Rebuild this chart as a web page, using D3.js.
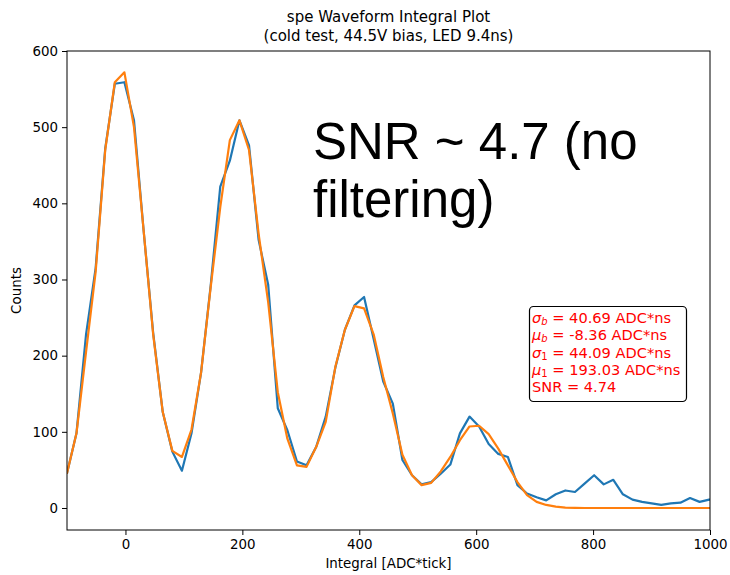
<!DOCTYPE html>
<html lang="en">
<head>
  <meta charset="utf-8">
  <title>spe Waveform Integral Plot</title>
  <script src="https://cdn.jsdelivr.net/npm/d3@7"></script>
  <style>
    body { margin: 0; background: #fff; font-family: "DejaVu Sans", sans-serif; }
  </style>
</head>
<body>
<div id="chart"></div>
<script>

// bin centres [ADC*tick]
const binCenters = [-100.2, -83.8, -67.4, -51.0, -34.6, -18.2, -1.8, 14.6, 31.0, 47.4,
  63.8, 80.2, 96.6, 113.0, 129.4, 145.8, 162.2, 178.6, 195.0, 211.4,
  227.8, 244.2, 260.6, 277.0, 293.4, 309.8, 326.2, 342.6, 359.0, 375.4,
  391.8, 408.2, 424.6, 441.0, 457.4, 473.8, 490.2, 506.6, 523.0, 539.4,
  555.8, 572.2, 588.6, 605.0, 621.4, 637.8, 654.2, 670.6, 687.0, 703.4,
  719.8, 736.2, 752.6, 769.0, 785.4, 801.8, 818.2, 834.6, 851.0, 867.4,
  883.8, 900.2, 916.6, 933.0, 949.4, 965.8, 982.2, 998.6, 1015.0];

// measured histogram counts
const counts = [45, 98, 228, 315, 472, 557, 559, 509, 365, 230,
  126, 74, 49, 98, 178, 292, 422, 456, 509, 476,
  352, 293, 131, 102, 61, 56, 80, 120, 184, 234,
  266, 277, 222, 166, 137, 63, 43, 31, 34, 45,
  57, 98, 120, 107, 84, 71, 67, 30, 19, 14,
  10, 18, 23, 21, 32, 43, 31, 37, 18, 11,
  8, 6, 4, 6, 7, 13, 8, 11, 12];

// multi-gaussian fit evaluated on the same centres
const fitCounts = [45, 98, 205, 310, 470, 559, 572, 500, 365, 228,
  126, 75, 67, 103, 178, 290, 395, 483, 509, 470,
  360, 270, 152, 91, 56, 54, 80, 113, 185, 234,
  265, 262, 228, 172, 124, 70, 43, 30, 33, 48,
  67, 89, 107, 108, 97, 78, 56, 34, 17, 8,
  4, 1.7, 0.6, 0.2, 0, 0, 0, 0, 0, 0,
  0, 0, 0, 0, 0, 0, 0, 0, 0];

const yTicks = [0, 100, 200, 300, 400, 500, 600];
const xTicks = [0, 200, 400, 600, 800, 1000];

const fitText = [
  { sym: "σ", sub: "b", rest: " = 40.69 ADC*ns" },
  { sym: "μ", sub: "b", rest: " = -8.36 ADC*ns" },
  { sym: "σ", sub: "1", rest: " = 44.09 ADC*ns" },
  { sym: "μ", sub: "1", rest: " = 193.03 ADC*ns" },
  { sym: "", sub: "", rest: "SNR = 4.74" }
];

const w = 730, h = 575;
const margin = { top: 51, right: 20, bottom: 45, left: 67 };

const svg = d3.select("#chart").append("svg")
  .attr("width", w)
  .attr("height", h);

const x = d3.scaleLinear().domain([-100, 1000]).range([margin.left, w - margin.right]);
const y = d3.scaleLinear().domain([-28.9, 600]).range([h - margin.bottom, margin.top]);

svg.append("defs").append("clipPath").attr("id", "plotclip")
  .append("rect")
  .attr("x", margin.left).attr("y", margin.top)
  .attr("width", x.range()[1] - x.range()[0])
  .attr("height", y.range()[0] - y.range()[1]);

// axes
const xAxis = svg.append("g")
  .attr("transform", `translate(0,${h - margin.bottom})`)
  .call(d3.axisBottom(x).tickValues(xTicks).tickFormat(d3.format("d")).tickSize(5).tickPadding(4));
const yAxis = svg.append("g")
  .attr("transform", `translate(${margin.left},0)`)
  .call(d3.axisLeft(y).tickValues(yTicks).tickFormat(d3.format("d")).tickSize(5).tickPadding(4));

[xAxis, yAxis].forEach(a => {
  a.select(".domain").remove();
  a.selectAll("line").attr("stroke", "#000").attr("stroke-width", 1);
  a.selectAll("text").attr("font-family", "DejaVu Sans").attr("font-size", 13.4).attr("fill", "#000");
});

// lines
const line = d3.line().x((d, i) => x(binCenters[i])).y(d => y(d));

const plot = svg.append("g").attr("clip-path", "url(#plotclip)");
plot.append("path")
  .datum(counts)
  .attr("fill", "none")
  .attr("stroke", "#1f77b4")
  .attr("stroke-width", 2.2)
  .attr("stroke-linejoin", "round")
  .attr("d", line);
plot.append("path")
  .datum(fitCounts)
  .attr("fill", "none")
  .attr("stroke", "#ff7f0e")
  .attr("stroke-width", 2.2)
  .attr("stroke-linejoin", "round")
  .attr("d", line);

// frame
svg.append("rect")
  .attr("x", margin.left).attr("y", margin.top)
  .attr("width", x.range()[1] - x.range()[0])
  .attr("height", y.range()[0] - y.range()[1])
  .attr("fill", "none")
  .attr("stroke", "#000")
  .attr("stroke-width", 1);

// title
const cx = (x.range()[0] + x.range()[1]) / 2;
svg.append("text")
  .attr("x", cx).attr("y", 22)
  .attr("text-anchor", "middle")
  .attr("font-size", 15)
  .text("spe Waveform Integral Plot");
svg.append("text")
  .attr("x", cx).attr("y", 41)
  .attr("text-anchor", "middle")
  .attr("font-size", 15)
  .text("(cold test, 44.5V bias, LED 9.4ns)");

// axis labels
svg.append("text")
  .attr("x", cx).attr("y", 568)
  .attr("text-anchor", "middle")
  .attr("font-size", 13.4)
  .text("Integral [ADC*tick]");
svg.append("text")
  .attr("transform", `translate(21,${(y.range()[0] + y.range()[1]) / 2}) rotate(-90)`)
  .attr("text-anchor", "middle")
  .attr("font-size", 13.4)
  .text("Counts");

// big annotation
const big = svg.append("text")
  .attr("font-family", "Liberation Sans, Arial, sans-serif")
  .attr("font-size", 51)
  .attr("fill", "#000");
big.append("tspan").attr("x", 313).attr("y", 159).text("SNR ~ 4.7 (no");
big.append("tspan").attr("x", 313).attr("y", 217).text("filtering)");

// fit parameter box
svg.append("rect")
  .attr("x", 529.5).attr("y", 306.5)
  .attr("width", 157).attr("height", 95)
  .attr("rx", 4)
  .attr("fill", "#fff")
  .attr("stroke", "#000")
  .attr("stroke-width", 1.2);

const box = svg.append("g").attr("fill", "red").attr("font-size", 14.6);
fitText.forEach((d, i) => {
  const t = box.append("text").attr("x", 532).attr("y", 323 + i * 17.3);
  if (d.sym) {
    t.append("tspan").attr("font-style", "italic").text(d.sym);
    t.append("tspan").attr("font-size", 10).attr("dy", 2)
      .attr("font-style", d.sub === "b" ? "italic" : "normal").text(d.sub);
    t.append("tspan").attr("dy", -2).text(d.rest);
  } else {
    t.append("tspan").text(d.rest);
  }
});

</script>
</body>
</html>
